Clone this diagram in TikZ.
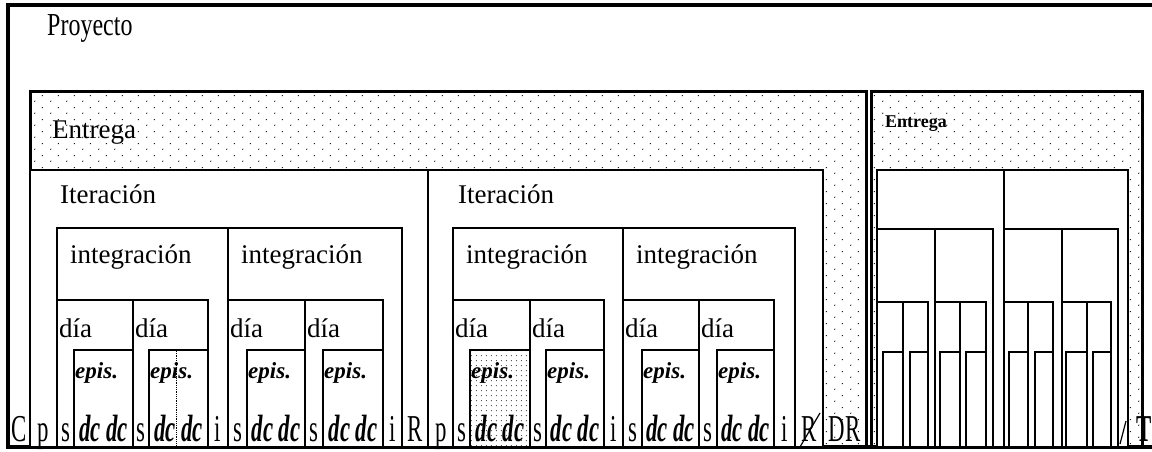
\documentclass[tikz,border=0pt]{standalone}
\usepackage{fontspec}
\setmainfont{Liberation Serif}
\usetikzlibrary{patterns}
\pgfdeclarepatternformonly{stipple}{\pgfqpoint{0pt}{0pt}}{\pgfqpoint{16pt}{12pt}}{\pgfqpoint{16pt}{12pt}}{%
  \pgfpathcircle{\pgfqpoint{3pt}{3pt}}{0.7pt}%
  \pgfpathcircle{\pgfqpoint{11pt}{9pt}}{0.7pt}%
  \pgfusepath{fill}}
\pgfdeclarepatternformonly{densestipple}{\pgfqpoint{0pt}{0pt}}{\pgfqpoint{5pt}{5pt}}{\pgfqpoint{5pt}{5pt}}{%
  \pgfpathcircle{\pgfqpoint{1.5pt}{1.5pt}}{0.6pt}%
  \pgfusepath{fill}}
\tikzset{
  box/.style={draw,line width=2.2pt,fill=white},
  stip/.style={draw,line width=3pt,pattern=stipple},
  plain/.style={},
  shaded/.style={pattern=densestipple},
  lbl/.style={anchor=base west,inner sep=0pt,font=\fontsize{27}{29}\selectfont},
  epislbl/.style={anchor=base west,inner sep=0pt,font=\fontsize{23}{25}\selectfont\bfseries\itshape},
  cell/.style={anchor=base,inner sep=0pt},
}
\newcommand\celltxt[1]{\scalebox{0.6}[1]{\fontsize{38}{40}\selectfont #1}}

\begin{document}
\begin{tikzpicture}[x=1pt,y=-1pt]
\clip (0,0) rectangle (1152,452);
\fill[white] (0,0) rectangle (1152,452);
% proyecto
\draw[line width=3.4pt] (8,5) rectangle (1170,447);
\node[lbl] (proyecto) at (47,36) {\scalebox{0.75}[1]{\fontsize{32}{34}\selectfont Proyecto}};
% entregas
\draw[stip] (30,92) rectangle (866,447);
\draw[stip] (871,92) rectangle (1142,447);
\node[lbl] (entrega1) at (52,138) {Entrega};
\node[lbl,font=\fontsize{18}{20}\selectfont\bfseries] (entrega2) at (885,127) {Entrega};
% iteraciones
\foreach \a/\b [count=\n] in {30/428, 428/823} {
  \draw[box] (\a,170) rectangle (\b,447);
  \node[lbl] (iter\n) at (\a+30,203) {Iteración};
  \node[cell] (p\n) at (\a+13.5,441) {\celltxt{p}};
}
% integraciones
\foreach \a/\c/\b [count=\n] in {57/208/228, 228/383/402, 453/604/623, 623/774/795} {
  \draw[box] (\a,228) rectangle (\b,447);
  \node[lbl] (integ\n) at (\a+13,263) {integración};
  \node[cell] (i\n) at ({(\c+\b)/2},441) {\celltxt{i}};
}
% dias y episodios
\foreach \a/\e/\b/\f [count=\n] in {57/74/133/plain, 133/149/208/plain, 228/247/305/plain, 305/323/383/plain,
    453/470/530/shaded, 530/546/604/plain, 623/642/699/plain, 699/717/774/plain} {
  \draw[box] (\a,300) rectangle (\b,447);
  \node[lbl] (dia\n) at (\a+2,337) {día};
  \draw[box,\f] (\e,350) rectangle (\b,447);
  \node[epislbl] (epis\n) at (\e+1,378) {epis.};
  \node[cell] (s\n) at ({(\a+\e)/2},441) {\celltxt{s}};
  \node[cell] (dc\n) at ({(\e+\b)/2},441) {\celltxt{\bfseries\itshape dc dc}};
}
\draw[densely dotted,line width=0.8pt] (176,351) -- (176,446);
% columnas sueltas
\node[cell] (c) at (19,441) {\celltxt{C}};
\node[cell] (r1) at (415,441) {\celltxt{R}};
\node[cell] (r2) at (809,441) {\celltxt{R}};
\draw[line width=1.2pt] (800,447) -- (820,413);
\node[cell] (dr) at (844.5,441) {\celltxt{DR}};
% segunda entrega
\foreach \a/\b in {877/1004, 1004/1128}
  \draw[box] (\a,170) rectangle (\b,447);
\foreach \a/\b in {877/935, 935/993, 1004/1062, 1062/1118}
  \draw[box] (\a,229) rectangle (\b,447);
\foreach \a/\e/\b in {877/883/903, 903/910/928, 935/940/960, 960/966/986,
    1004/1009/1028, 1028/1035/1053, 1062/1066/1087, 1087/1093/1111} {
  \draw[box] (\a,302) rectangle (\b,447);
  \draw[box] (\e,352) rectangle (\b,447);
}
\draw[line width=1.2pt] (1120,444) -- (1126,421);
\node[cell] (t) at (1144,441) {\celltxt{\bfseries T}};
\end{tikzpicture}
\end{document}
